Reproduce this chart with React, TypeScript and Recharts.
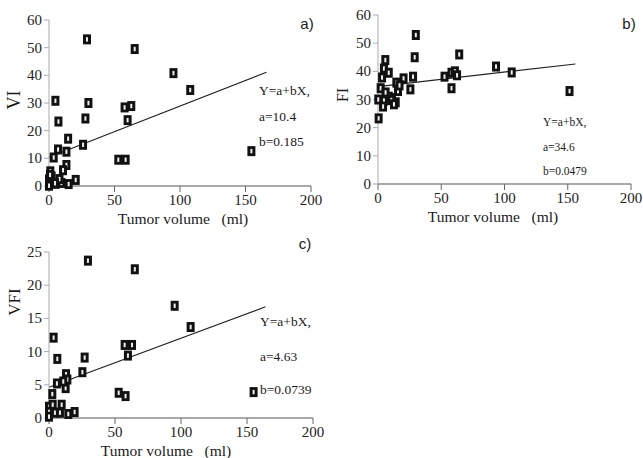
import React from 'react';
import { ScatterChart, Scatter, XAxis, YAxis, ReferenceLine } from 'recharts';

// Tumor volume (ml) and index values, read per panel
const volumeA = [29, 65.4, 95, 107.8, 154.5, 4.9, 30.1, 7.2, 27.8, 57.7, 62.8, 60, 26, 14.6, 6.9, 13.3, 3.6, 52.9, 58.5, 13.3, 10.7, 1, 0, 20.4, 5.1, 9.5, 15, 0, 2, 8, 0.8, 4.6];
const viValues = [53, 49.5, 40.8, 34.7, 12.6, 30.8, 30, 23.3, 24.4, 28.4, 28.9, 23.8, 14.9, 17.1, 13.2, 12.4, 10.3, 9.5, 9.5, 7.6, 5.7, 5.3, 2.4, 2.2, 0.8, 1.1, 0.7, 0.1, 3.5, 2.5, 4, 1];

const volumeB = [29.9, 29, 64.2, 93.3, 105.7, 151.4, 0.5, 52.6, 58.1, 58.1, 60.8, 62.5, 27.7, 25.6, 20.2, 14.5, 15.8, 14, 11, 8.5, 5.8, 4.7, 8.5, 3.2, 2.1, 0.2, 4.7, 4, 6, 10.5, 12.6, 17];
const fiValues = [52.9, 45, 46, 41.7, 39.6, 33, 23.3, 38.1, 34, 39.5, 40, 38.6, 38.1, 33.6, 37.5, 36, 33, 29, 30.5, 31, 44, 41, 39.5, 37.8, 34, 30, 29.6, 27.5, 32.5, 29.8, 28.3, 35];

const volumeC = [29.5, 65, 95.2, 107.3, 155, 3.5, 6.3, 27, 25.3, 57.3, 62.9, 59.8, 12.9, 13.9, 12.6, 6, 10.8, 2.5, 52.8, 58, 0, 2.8, 9.6, 0, 4.5, 8.3, 14.6, 19.4, 0];
const vfiValues = [23.7, 22.4, 16.9, 13.7, 3.9, 12.1, 8.9, 9.1, 6.9, 11, 11, 9.4, 6.6, 5.8, 4.5, 5.2, 5.5, 3.6, 3.8, 3.3, 1.7, 2, 2, 0.9, 0.8, 0.8, 0.6, 0.9, 0.2];

const xTicks = [0, 50, 100, 150, 200];
const yTicksA = [0, 10, 20, 30, 40, 50, 60];
const yTicksB = [0, 10, 20, 30, 40, 50, 60];
const yTicksC = [0, 5, 10, 15, 20, 25];

// regression line end points (x, y)
const fitA = [{ x: 0, y: 10.4 }, { x: 166, y: 41.1 }];
const fitB = [{ x: 0, y: 34.6 }, { x: 156, y: 42.6 }];
const fitC = [{ x: 0, y: 4.63 }, { x: 164, y: 16.75 }];

const zip = (xs: number[], ys: number[]) => xs.map((x, i) => ({ x, y: ys[i] }));

const SERIF = '"Liberation Serif", "Times New Roman", serif';
const SANS = '"Liberation Sans", Arial, sans-serif';

const Square = (props: any) => {
  const { cx, cy } = props;
  if (cx == null || cy == null) return null;
  return (
    <g>
      <rect x={cx - 4} y={cy - 5} width={8} height={10} fill="#111" />
      <rect x={cx - 1} y={cy - 2.2} width={2} height={4.4} fill="#eee" />
    </g>
  );
};

const XTick = (props: any) => {
  const { x, y, payload } = props;
  return (
    <text x={x} y={y + 11} textAnchor="middle" fontFamily={SERIF} fontSize={15} fill="#222">
      {payload.value}
    </text>
  );
};

const YTick = (props: any) => {
  const { x, y, payload } = props;
  return (
    <text x={x} y={y + 5} textAnchor="end" fontFamily={SERIF} fontSize={15} fill="#222">
      {payload.value}
    </text>
  );
};

type PanelProps = {
  left: number; top: number; width: number; height: number;
  margin: { top: number; right: number; bottom: number; left: number };
  points: { x: number; y: number }[];
  yTicks: number[]; yMax: number; fit: { x: number; y: number }[];
};

const Panel = ({ left, top, width, height, margin, points, yTicks, yMax, fit }: PanelProps) => (
  <div style={{ position: 'absolute', left, top }}>
    <ScatterChart width={width} height={height} margin={margin} style={{ fontFamily: SERIF }}>
      <XAxis
        type="number" dataKey="x" domain={[0, 200]} ticks={xTicks} interval={0} height={30}
        tick={<XTick />}
        axisLine={{ stroke: '#555', strokeWidth: 1.2 }} tickLine={{ stroke: '#666' }} tickSize={6}
      />
      <YAxis
        type="number" dataKey="y" domain={[0, yMax]} ticks={yTicks} interval={0} width={40}
        tick={<YTick />}
        axisLine={{ stroke: '#aaa' }} tickLine={{ stroke: '#aaa' }} tickSize={5}
      />
      <ReferenceLine segment={fit} stroke="#222" strokeWidth={1.2} ifOverflow="visible" />
      <Scatter data={points} shape={Square} isAnimationActive={false} />
    </ScatterChart>
  </div>
);

const T = ({ x, y, size, children, font = SERIF, rotate = false }: any) => (
  <div
    style={{
      position: 'absolute', left: x, top: y, fontFamily: font, fontSize: size, color: '#1a1a1a',
      whiteSpace: 'nowrap', lineHeight: 1,
      transform: rotate ? 'translate(-50%, -50%) rotate(-90deg)' : 'translate(-50%, -50%)',
    }}
  >
    {children}
  </div>
);

const TL = ({ x, y, size, children }: any) => (
  <div
    style={{
      position: 'absolute', left: x, top: y, fontFamily: SERIF, fontSize: size, color: '#1a1a1a',
      whiteSpace: 'nowrap', lineHeight: 1, transform: 'translate(0, -50%)',
    }}
  >
    {children}
  </div>
);

export default function App() {
  return (
    <div style={{ position: 'absolute', left: 0, top: 0, width: 643, height: 458, background: '#fff', overflow: 'hidden', fontFamily: SERIF }}>
      <Panel left={0} top={0} width={330} height={225}
        margin={{ top: 20, right: 19, bottom: 9, left: 9 }}
        points={zip(volumeA, viValues)} yTicks={yTicksA} yMax={60} fit={fitA} />
      <Panel left={330} top={0} width={313} height={225}
        margin={{ top: 15, right: 12, bottom: 11, left: 8 }}
        points={zip(volumeB, fiValues)} yTicks={yTicksB} yMax={60} fit={fitB} />
      <Panel left={0} top={225} width={330} height={233}
        margin={{ top: 27, right: 17, bottom: 10, left: 9 }}
        points={zip(volumeC, vfiValues)} yTicks={yTicksC} yMax={25} fit={fitC} />

      <T x={14} y={100} size={18} rotate>VI</T>
      <T x={343} y={95} size={16} rotate>FI</T>
      <T x={14} y={302} size={17} rotate>VFI</T>

      <T x={183} y={219} size={15.5}>Tumor volume&nbsp;&nbsp;&nbsp;(ml)</T>
      <T x={493} y={217} size={15.5}>Tumor volume&nbsp;&nbsp;&nbsp;(ml)</T>
      <T x={166} y={451} size={15.5}>Tumor volume&nbsp;&nbsp;&nbsp;(ml)</T>

      <T x={307} y={23} size={15} font={SANS}>a)</T>
      <T x={629} y={23} size={15} font={SANS}>b)</T>
      <T x={305} y={243} size={15} font={SANS}>c)</T>

      <TL x={259} y={91} size={13.5}>Y=a+bX,</TL>
      <TL x={259} y={117} size={13.5}>a=10.4</TL>
      <TL x={259} y={142} size={13.5}>b=0.185</TL>

      <TL x={543} y={123} size={11.5}>Y=a+bX,</TL>
      <TL x={543} y={148} size={11.5}>a=34.6</TL>
      <TL x={543} y={172} size={11.5}>b=0.0479</TL>

      <TL x={260} y={322} size={13.5}>Y=a+bX,</TL>
      <TL x={260} y={357} size={13.5}>a=4.63</TL>
      <TL x={260} y={390} size={13.5}>b=0.0739</TL>
    </div>
  );
}
